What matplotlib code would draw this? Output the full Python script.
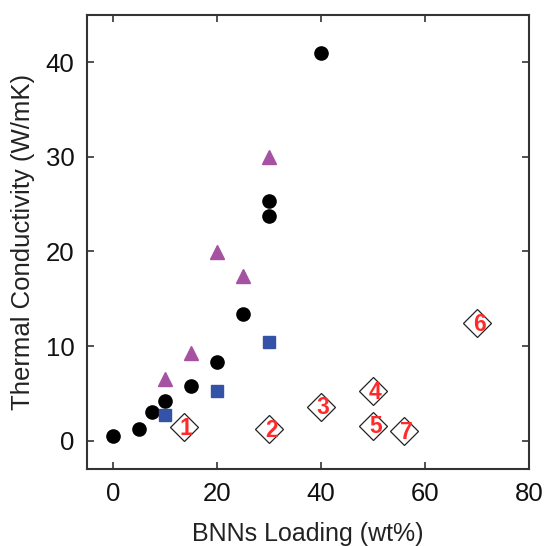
import matplotlib
matplotlib.use("Agg")
import matplotlib.pyplot as plt

plt.rcParams['font.family'] = ['Liberation Sans', 'DejaVu Sans']

# Data
circ_x = [0, 5, 7.5, 10, 15, 20, 25, 30, 30, 40]
circ_y = [0.5, 1.2, 3.0, 4.2, 5.8, 8.3, 13.4, 23.7, 25.3, 41.0]
tri_x = [10, 15, 20, 25, 30]
tri_y = [6.55, 9.3, 19.9, 17.4, 30.0]
sq_x = [10, 20, 30]
sq_y = [2.75, 5.3, 10.4]
dia_x = [13.6, 30, 40, 50, 50, 70, 56]
dia_y = [1.4, 1.2, 3.56, 5.2, 1.6, 12.4, 1.0]
dia_labels = ['1', '2', '3', '4', '5', '6', '7']
xticks = [0, 20, 40, 60, 80]
yticks = [0, 10, 20, 30, 40]

fig = plt.figure(figsize=(5.44, 5.46), dpi=100)
ax = fig.add_axes([0.160, 0.141, 0.812, 0.8315])

ax.plot(circ_x, circ_y, 'o', color='black', markersize=9.5, linestyle='none')
ax.plot(tri_x, tri_y, '^', color='#a552a3', markersize=10, linestyle='none')
ax.plot(sq_x, sq_y, 's', color='#3553a6', markersize=8.5, linestyle='none')
ax.plot(dia_x, dia_y, 'D', markerfacecolor='white', markeredgecolor='#222222',
        markeredgewidth=0.9, markersize=14, linestyle='none')
for x, y, t in zip(dia_x, dia_y, dia_labels):
    ax.text(x + 0.45, y - 0.1, t, color='#ff2a2a', fontsize=16.5, fontweight='bold',
            ha='center', va='center')

ax.set_xlim(-5, 80)
ax.set_ylim(-3, 45)
ax.set_xticks(xticks)
ax.set_yticks(yticks)
ax.tick_params(direction='in', length=5, width=1.2, labelsize=18.5, top=True, right=True,
               colors='#333333', labelcolor='#111111', pad=9)
for s in ax.spines.values():
    s.set_linewidth(1.5)
    s.set_color('#333333')
ax.set_xlabel('BNNs Loading (wt%)', fontsize=18, color='#222222', labelpad=12)
ax.set_ylabel('Thermal Conductivity (W/mK)', fontsize=18.5, color='#222222', labelpad=8)

fig.savefig('out.png', dpi=100)
